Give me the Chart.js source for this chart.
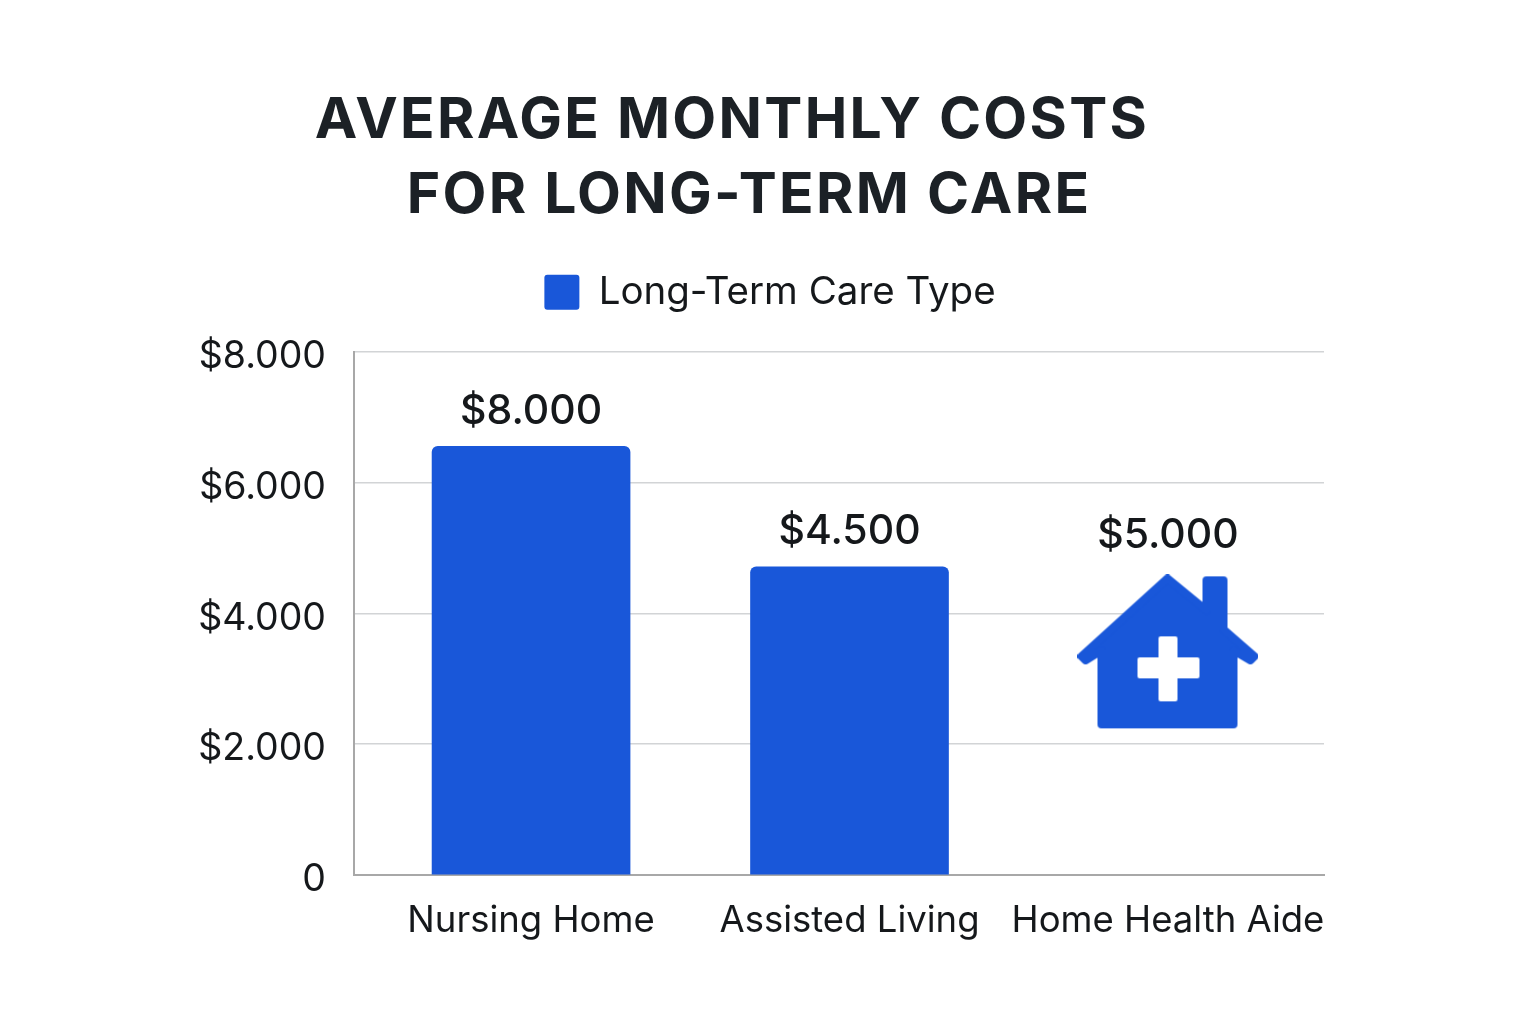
<!DOCTYPE html>
<html>
<head>
<meta charset="utf-8">
<title>Average Monthly Costs for Long-Term Care</title>
<script src="https://cdn.jsdelivr.net/npm/chart.js@4"></script>
<style>
  html, body { margin: 0; background: #fff; }
  canvas { display: block; }
</style>
</head>
<body>
<canvas id="chart" width="1536" height="1024"></canvas>
<script>
const titleLines = ['AVERAGE MONTHLY COSTS', 'FOR LONG-TERM CARE'];
const seriesName = 'Long-Term Care Type';
const categories = ['Nursing Home', 'Assisted Living', 'Home Health Aide'];
// bar heights as drawn, the printed labels do not agree with them
const barValues = [6550, 4710];
const houseValue = 3410;
const valueLabels = ['$8.000', '$4.500', '$5.000'];
const yTickLabels = ['0', '$2.000', '$4.000', '$6.000', '$8.000'];

const BLUE = '#1957d9';
const INK = '#15181b';
const TITLE_INK = '#1c2126';
const FONT = 'Inter, sans-serif';

// house icon for the third category, used as a point style
function makeHouse() {
    const c = document.createElement('canvas');
    c.width = 181;
    c.height = 155;
    const g = c.getContext('2d');
    const p = new Path2D('M90 4 L129 36 L129 6 L146 6 L146 55 L177 82 L173 86 L156 76 L156 150 L24 150 L24 76 L8 86 L4 82 Z');
    g.fillStyle = BLUE;
    g.strokeStyle = BLUE;
    g.lineWidth = 8;
    g.lineJoin = 'round';
    g.fill(p);
    g.stroke(p);
    g.fillStyle = '#fff';
    g.strokeStyle = '#fff';
    g.lineWidth = 4;
    const cross = new Path2D('M83 64 L98 64 L98 85 L120 85 L120 102 L98 102 L98 125 L83 125 L83 102 L62 102 L62 85 L83 85 Z');
    g.fill(cross);
    g.stroke(cross);
    return c;
}

// the two title lines and the legend have their own centres, none on the plot
const shiftBlocks = {
    id: 'shiftBlocks',
    afterLayout(chart) {
        const placeLine = (text, right) => {
            const box = chart.boxes.find(b => b.options && b.options.text === text);
            box.left = 0;
            box.right = right;
            const drawLine = box.draw;
            box.draw = function () {
                chart.ctx.letterSpacing = '2.3px';
                drawLine.call(box);
                chart.ctx.letterSpacing = '0px';
            };
        };
        placeLine(titleLines[0], 1464);
        placeLine(titleLines[1], 1498);
        chart.legend.left = 0;
        chart.legend.right = 1540;
        chart.legend.top -= 30;
    }
};

const valueText = {
    id: 'valueText',
    afterDatasetsDraw(chart) {
        const { ctx, scales } = chart;
        ctx.save();
        ctx.font = '500 41px ' + FONT;
        ctx.fillStyle = INK;
        ctx.textAlign = 'center';
        ctx.textBaseline = 'middle';
        valueLabels.forEach((text, i) => {
            const x = scales.x.getPixelForValue(i);
            const y = i < barValues.length
                ? scales.y.getPixelForValue(barValues[i]) - 35
                : scales.y.getPixelForValue(houseValue) - 116;
            ctx.fillText(text, x, y);
        });
        ctx.restore();
    }
};

new Chart(document.getElementById('chart'), {
    type: 'bar',
    data: {
        datasets: [{
            label: seriesName,
            data: barValues.map((v, i) => ({ x: i, y: v })),
            backgroundColor: BLUE,
            borderRadius: { topLeft: 6, topRight: 6 },
            borderSkipped: false,
            barThickness: 198
        }, {
            type: 'line',
            label: 'icon',
            data: [{ x: 2, y: houseValue }],
            showLine: false,
            pointStyle: makeHouse(),
            pointRadius: 10
        }]
    },
    options: {
        responsive: false,
        animation: false,
        layout: { padding: { left: 0, right: 212, bottom: 60 } },
        plugins: {
            tooltip: { enabled: false },
            title: {
                display: true,
                text: titleLines[0],
                color: TITLE_INK,
                font: { family: FONT, size: 57, weight: '700', lineHeight: 74.5 / 57 },
                padding: { top: 84, bottom: 0 }
            },
            subtitle: {
                display: true,
                text: titleLines[1],
                color: TITLE_INK,
                font: { family: FONT, size: 57, weight: '700', lineHeight: 74.5 / 57 },
                padding: 0
            },
            legend: {
                position: 'top',
                maxHeight: 200,
                labels: {
                    filter: item => item.text === seriesName,
                    color: INK,
                    font: { family: FONT, size: 38.5 },
                    boxWidth: 35,
                    boxHeight: 35,
                    padding: 70,
                    useBorderRadius: true,
                    borderRadius: 3
                }
            }
        },
        scales: {
            x: {
                type: 'linear',
                offset: false,
                min: -0.556,
                max: 2.49,
                grid: { display: false },
                border: { display: true, color: '#a8a8a8', width: 2 },
                afterBuildTicks: axis => { axis.ticks = categories.map((c, i) => ({ value: i })); },
                afterFit: axis => { axis.height = 89; },
                ticks: {
                    callback: v => categories[v],
                    autoSkip: false,
                    maxRotation: 0,
                    color: INK,
                    font: { family: FONT, size: 36.5 },
                    padding: 16
                }
            },
            y: {
                min: 0,
                max: 8000,
                grid: { color: '#d2d4d6', lineWidth: 1.5, drawTicks: false },
                border: { display: true, color: '#a8a8a8', width: 2 },
                afterFit: axis => { axis.width = 354; },
                ticks: {
                    stepSize: 2000,
                    callback: (v, i) => yTickLabels[i],
                    color: INK,
                    font: { family: FONT, size: 37.5 },
                    padding: 28,
                    labelOffset: 5
                }
            }
        }
    },
    plugins: [shiftBlocks, valueText]
});
</script>
</body>
</html>
